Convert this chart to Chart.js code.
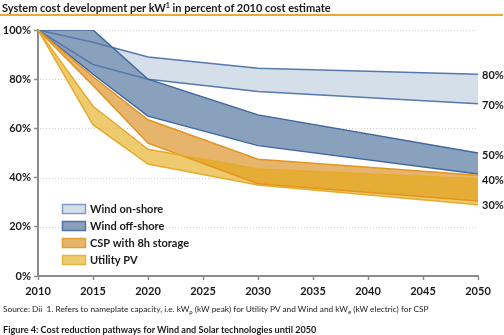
<!DOCTYPE html>
<html lang="en">
<head>
<meta charset="UTF-8">
<title>System cost development</title>
<script src="https://cdn.jsdelivr.net/npm/chart.js"></script>
<style>
  body { margin: 0; background: #fff; font-family: Lato, sans-serif; color: #1a1a1a; }
  .wrap { position: relative; width: 504px; height: 335px; overflow: hidden; }
  #grafico { position: absolute; left: 0; top: 0; }
  .titulo { position: absolute; left: 2px; top: 1px; font-size: 11px; font-weight: bold; white-space: nowrap; }
  .linha { position: absolute; left: 0; top: 14px; width: 503px; height: 2px; background: #eea935; }
  .fonte { position: absolute; left: 3px; top: 304px; font-size: 8.3px; white-space: nowrap; color: #222; }
  .figura { position: absolute; left: 3px; top: 324px; font-size: 9.1px; font-weight: bold; white-space: nowrap; }
  sub { font-size: 6px; vertical-align: -2px; }
  sup { font-size: 7px; vertical-align: 4px; line-height: 0; }
</style>
</head>
<body>
<div class="wrap">
  <canvas id="grafico" width="504" height="335"></canvas>
  <div class="titulo">System cost development per kW<sup>1</sup> in percent of 2010 cost estimate</div>
  <div class="linha"></div>
  <div class="fonte">Source: Dii&nbsp; 1. Refers to nameplate capacity, i.e. kW<sub>p</sub> (kW peak) for Utility PV and Wind and kW<sub>e</sub> (kW electric) for CSP</div>
  <div class="figura">Figure 4: Cost reduction pathways for Wind and Solar technologies until 2050</div>
</div>
<script>
// anos e limites de cada faixa (% do custo de 2010)
var anos = [2010, 2015, 2020, 2030, 2050]

var onshoreAlto = [100, 95, 89, 84.5, 82]
var onshoreBaixo = [100, 86, 80, 75, 70]
var offshoreAlto = [100, 100, 80, 65.5, 50]
var offshoreBaixo = [100, 82, 65, 53, 41.5]
var cspAlto = [100, 81, 63.5, 47.5, 41]
var cspBaixo = [100, 77.5, 54, 37.5, 30.5]
var pvAlto = [100, 69, 51.5, 43.5, 39.5]
var pvBaixo = [100, 61.5, 45.5, 37, 29]

var nomes = ['Wind on-shore', 'Wind off-shore', 'CSP with 8h storage', 'Utility PV']
var rotulosFim = ['80%', '70%', '50%', '40%', '30%']
var valoresFim = [81.5, 69.5, 49, 39, 28.5]

var corFill = ['#d4dfe9', '#8aa1be', '#e7b46b', 'rgba(228,168,17,0.6)']
var corLinha = ['#5679ad', '#3f66a0', '#e3951f', '#e8aa2a']
var corBorda = ['#7f9cc4', '#4f72a6', '#e39c36', '#e8b440']

function pontos(vals) {
    return anos.map(function (a, i) { return { x: a, y: vals[i] } })
}

function faixa(vals, cor, fill, fillCor) {
    return {
        data: pontos(vals),
        borderColor: cor,
        borderWidth: 1.5,
        backgroundColor: fillCor || 'transparent',
        fill: fill,
        pointRadius: 0,
        tension: 0
    }
}

// indice 0 fica por cima
var datasets = [
    faixa(pvAlto, corLinha[3], '+1', corFill[3]),
    faixa(pvBaixo, corLinha[3], false),
    faixa(cspAlto, corLinha[2], '+1', corFill[2]),
    faixa(cspBaixo, corLinha[2], false),
    faixa(offshoreAlto, corLinha[1], '+1', corFill[1]),
    faixa(offshoreBaixo, corLinha[1], false),
    faixa(onshoreAlto, corLinha[0], '+1', corFill[0]),
    faixa(onshoreBaixo, corLinha[0], false)
]

var extras = {
    id: 'extras',
    beforeDraw: function (chart) {
        var ctx = chart.ctx, ca = chart.chartArea, y = chart.scales.y
        ctx.save()
        ctx.strokeStyle = '#cfcfcf'
        ctx.lineWidth = 1
        ctx.setLineDash([1, 2])
        y.ticks.forEach(function (t) {
            if (t.value == 0) return
            var py = Math.round(y.getPixelForValue(t.value)) + 0.5
            ctx.beginPath()
            ctx.moveTo(ca.left + 2, py)
            ctx.lineTo(ca.right, py)
            ctx.stroke()
        })
        ctx.restore()
    },
    afterDraw: function (chart) {
        var ctx = chart.ctx, ca = chart.chartArea, y = chart.scales.y
        ctx.save()
        ctx.font = 'bold 11px Lato'
        ctx.fillStyle = '#1a1a1a'
        ctx.textBaseline = 'middle'
        rotulosFim.forEach(function (r, i) {
            ctx.fillText(r, ca.right + 4, y.getPixelForValue(valoresFim[i]))
        })
        // legenda
        nomes.forEach(function (n, i) {
            var bx = ca.left + 24, by = 204 + i * 17
            ctx.fillStyle = i == 3 ? '#efcb6f' : corFill[i]
            ctx.fillRect(bx, by, 24, 10)
            ctx.strokeStyle = corBorda[i]
            ctx.lineWidth = 1.5
            ctx.strokeRect(bx + 0.5, by + 0.5, 23, 9)
            ctx.fillStyle = '#1a1a1a'
            ctx.fillText(n, bx + 28, by + 5.5)
        })
        ctx.restore()
    }
}

new Chart(document.getElementById('grafico'), {
    type: 'line',
    data: { datasets: datasets },
    options: {
        responsive: false,
        animation: false,
        layout: { padding: { left: 0, right: 26, top: 30, bottom: 0 } },
        plugins: {
            legend: { display: false },
            tooltip: { enabled: false },
            filler: { drawTime: 'beforeDatasetsDraw' }
        },
        scales: {
            x: {
                type: 'linear',
                min: 2010,
                max: 2050,
                afterFit: function (s) { s.height = 59 },
                ticks: {
                    stepSize: 5,
                    padding: 5,
                    color: '#1a1a1a',
                    font: { family: 'Lato', size: 11, weight: 'bold' },
                    callback: function (v) { return String(v) }
                },
                grid: { drawOnChartArea: false, tickLength: 4, tickColor: '#8c8c8c', tickWidth: 1.5 },
                border: { color: '#8c8c8c', width: 2 }
            },
            y: {
                min: 0,
                max: 100,
                afterFit: function (s) { s.width = 38 },
                ticks: {
                    stepSize: 20,
                    padding: 3,
                    color: '#1a1a1a',
                    font: { family: 'Lato', size: 11, weight: 'bold' },
                    callback: function (v) { return v + '%' }
                },
                grid: { drawOnChartArea: false, tickLength: 4, tickColor: '#8c8c8c', tickWidth: 1.5 },
                border: { color: '#8c8c8c', width: 2 }
            }
        }
    },
    plugins: [extras]
})
</script>
</body>
</html>
